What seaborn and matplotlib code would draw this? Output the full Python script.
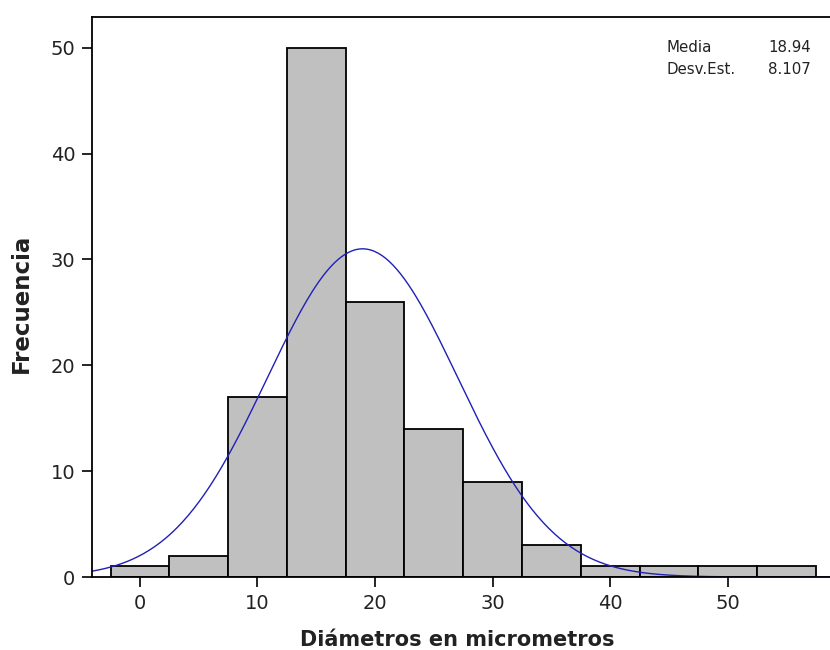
import numpy as np
import pandas as pd
import matplotlib
matplotlib.use("Agg")
import matplotlib.pyplot as plt
import seaborn as sns

# Histogram of diameters: bin centres and frequencies
bin_centers = [0, 5, 10, 15, 20, 25, 30, 35, 40, 45, 50, 55]
frequencies = [1, 2, 17, 50, 26, 14, 9, 3, 1, 1, 1, 1]
bin_width = 5

# Summary statistics for the fitted normal curve
media = 18.94
desv_est = 8.107

x_ticks = [0, 10, 20, 30, 40, 50]
y_ticks = [0, 10, 20, 30, 40, 50]

sns.set_theme(style="white")
plt.rcParams["font.family"] = ["DejaVu Sans"]

fig = plt.figure(figsize=(8.3, 6.5), dpi=100)
ax = fig.add_axes([0.1108, 0.1123, 0.8892, 0.8615])

df = pd.DataFrame({"diametro": bin_centers, "frecuencia": frequencies})
sns.histplot(data=df, x="diametro", weights="frecuencia",
             binwidth=bin_width,
             binrange=(bin_centers[0] - bin_width / 2,
                       bin_centers[-1] + bin_width / 2),
             color="#c0c0c0", alpha=1.0, edgecolor="black", linewidth=1.3,
             ax=ax)

# Normal curve scaled to the histogram counts
n = sum(frequencies)
xs = np.linspace(-4.1, 58.7, 400)
pdf = np.exp(-0.5 * ((xs - media) / desv_est) ** 2) / (desv_est * np.sqrt(2 * np.pi))
ax.plot(xs, pdf * n * bin_width, color="#2020b8", linewidth=1.0)

ax.set_xlim(-4.08, 58.7)
ax.set_ylim(0, 52.9)
ax.set_xticks(x_ticks)
ax.set_yticks(y_ticks)
ax.tick_params(axis="both", direction="out", length=7, width=1.2,
               labelsize=14, colors="black", bottom=True, left=True, pad=5)
for t in ax.get_xticklabels() + ax.get_yticklabels():
    t.set_color("#222222")

for side in ["left", "top", "bottom"]:
    ax.spines[side].set_visible(True)
    ax.spines[side].set_color("black")
    ax.spines[side].set_linewidth(1.3)
ax.spines["right"].set_visible(False)

ax.set_xlabel("Diámetros en micrometros", fontsize=15, fontweight="bold",
              color="#222222", va="center")
ax.xaxis.set_label_coords(0.4946, -0.113)
ax.set_ylabel("Frecuencia", fontsize=16.5, fontweight="bold",
              color="#222222", va="center")
ax.yaxis.set_label_coords(-0.095, 0.488)

# Statistics in the upper right corner
stat_names = ["Media", "Desv.Est."]
stat_values = [f"{media:.2f}", f"{desv_est:.3f}"]
for name, value, yy in zip(stat_names, stat_values, [0.945, 0.906]):
    ax.text(0.779, yy, name, transform=ax.transAxes, fontsize=10.8,
            ha="left", va="center", color="#222222")
    ax.text(0.974, yy, value, transform=ax.transAxes, fontsize=10.8,
            ha="right", va="center", color="#222222")

fig.savefig("out.png", dpi=100)
